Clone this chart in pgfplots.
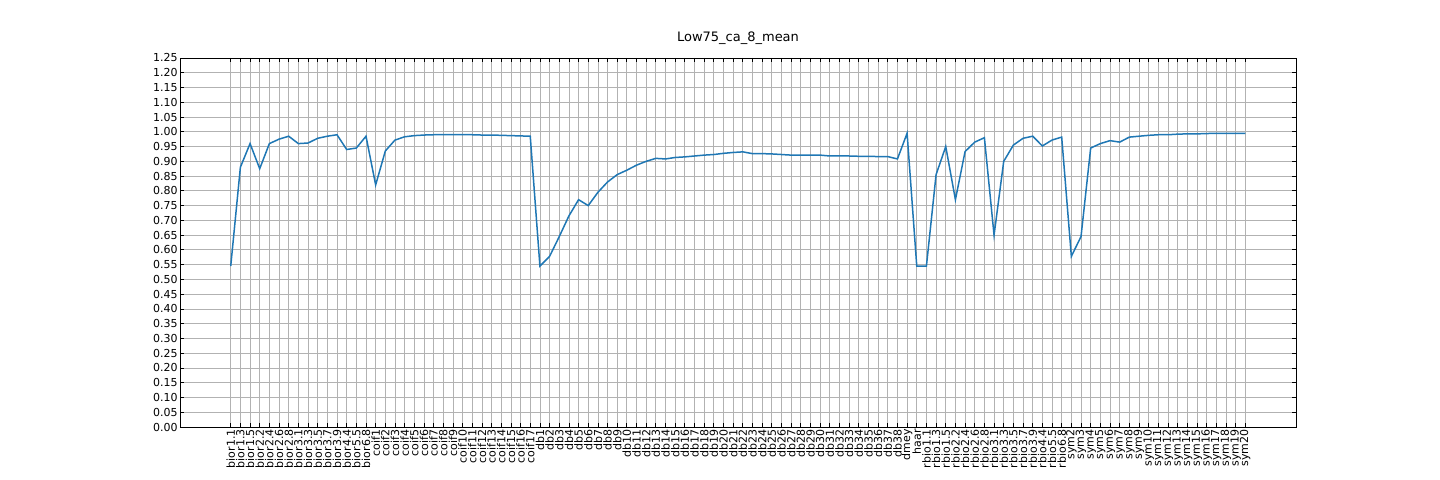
\documentclass[border=0pt]{standalone}
\usepackage{pgfplots}
\pgfplotsset{compat=1.18}
\usepackage{fontspec}
\setmainfont{DejaVu Sans}
\definecolor{mplblue}{HTML}{1F77B4}
\begin{document}
\begin{tikzpicture}
\path[use as bounding box] (-90pt,-26.5pt) rectangle (630pt,213.5pt);
\begin{axis}[at={(0,0)},anchor=south west,scale only axis,width=558pt,height=184.5pt,
 xmin=-5.25,xmax=110.25,ymin=0,ymax=1.25,
 ytick={0,0.05,...,1.2501},
 yticklabel style={/pgf/number format/fixed,/pgf/number format/fixed zerofill,/pgf/number format/precision=2,font=\fontsize{5.5}{6}\selectfont,inner sep=1pt},
 /pgf/number format/assume math mode=true,
 xtick={0,...,105},
 xticklabels={bior1.1,bior1.3,bior1.5,bior2.2,bior2.4,bior2.6,bior2.8,bior3.1,bior3.3,bior3.5,bior3.7,bior3.9,bior4.4,bior5.5,bior6.8,coif1,coif2,coif3,coif4,coif5,coif6,coif7,coif8,coif9,coif10,coif11,coif12,coif13,coif14,coif15,coif16,coif17,db1,db2,db3,db4,db5,db6,db7,db8,db9,db10,db11,db12,db13,db14,db15,db16,db17,db18,db19,db20,db21,db22,db23,db24,db25,db26,db27,db28,db29,db30,db31,db32,db33,db34,db35,db36,db37,db38,dmey,haar,rbio1.1,rbio1.3,rbio1.5,rbio2.2,rbio2.4,rbio2.6,rbio2.8,rbio3.1,rbio3.3,rbio3.5,rbio3.7,rbio3.9,rbio4.4,rbio5.5,rbio6.8,sym2,sym3,sym4,sym5,sym6,sym7,sym8,sym9,sym10,sym11,sym12,sym13,sym14,sym15,sym16,sym17,sym18,sym19,sym20},
 x tick label style={rotate=90,anchor=east,font=\fontsize{5.5}{6}\selectfont,inner sep=1pt},
 tick style={black,thin},major tick length=2pt,
 grid=major,grid style={gray!60,line width=0.4pt},
 title={Low75\_ca\_8\_mean},title style={font=\fontsize{6.5}{7}\selectfont,yshift=-3pt},
 axis line style={line width=0.4pt}]
\addplot[mplblue,line width=0.75pt,mark=none] coordinates {
(0,0.545)(1,0.88)(2,0.96)(3,0.875)(4,0.96)(5,0.975)(6,0.985)(7,0.96)(8,0.962)(9,0.978)(10,0.985)(11,0.99)(12,0.94)(13,0.945)(14,0.985)
(15,0.82)(16,0.935)(17,0.972)(18,0.983)(19,0.987)(20,0.989)(21,0.99)(22,0.99)(23,0.99)(24,0.99)(25,0.99)(26,0.989)(27,0.989)(28,0.988)(29,0.987)(30,0.986)(31,0.985)
(32,0.545)(33,0.578)(34,0.645)(35,0.715)(36,0.77)(37,0.75)(38,0.795)(39,0.83)(40,0.855)(41,0.87)(42,0.887)(43,0.9)(44,0.91)(45,0.908)(46,0.913)(47,0.915)(48,0.918)(49,0.921)(50,0.923)(51,0.927)(52,0.93)(53,0.932)(54,0.926)(55,0.926)(56,0.925)(57,0.923)(58,0.921)(59,0.921)(60,0.921)(61,0.921)(62,0.918)(63,0.918)(64,0.918)(65,0.917)(66,0.917)(67,0.916)(68,0.916)(69,0.908)
(70,0.995)(71,0.545)(72,0.545)(73,0.855)(74,0.95)(75,0.77)(76,0.933)(77,0.965)(78,0.98)(79,0.65)(80,0.9)(81,0.955)(82,0.978)(83,0.985)(84,0.952)(85,0.972)(86,0.982)
(87,0.578)(88,0.645)(89,0.945)(90,0.96)(91,0.97)(92,0.965)(93,0.982)(94,0.985)(95,0.988)(96,0.99)(97,0.99)(98,0.992)(99,0.993)(100,0.993)(101,0.994)(102,0.995)(103,0.995)(104,0.995)(105,0.995)};
\end{axis}
\end{tikzpicture}
\end{document}
